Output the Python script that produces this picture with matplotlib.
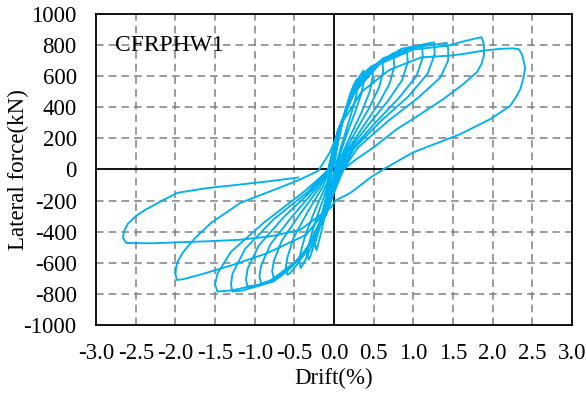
import matplotlib.pyplot as plt
import numpy as np

plt.rcParams['font.family'] = ['Liberation Serif', 'DejaVu Serif']

# hysteresis cycles: (drift %, lateral force kN)
c01 = [(0.00, 20), (0.05, 170), (0.12, 340), (0.20, 480), (0.25, 545), (0.29, 581), (0.30, 530),
       (0.27, 450), (0.20, 330), (0.11, 180), (0.03, 40), (-0.04, -110), (-0.10, -260),
       (-0.16, -400), (-0.22, -520), (-0.24, -480), (-0.23, -440), (-0.18, -340), (-0.11, -200),
       (-0.05, -70)]
c02 = [(0.00, 60), (0.07, 230), (0.15, 390), (0.24, 510), (0.32, 595), (0.37, 634), (0.38, 570),
       (0.34, 480), (0.26, 360), (0.15, 210), (0.05, 60), (-0.04, -100), (-0.12, -270),
       (-0.22, -440), (-0.30, -560), (-0.32, -580), (-0.34, -540), (-0.32, -490), (-0.27, -390),
       (-0.17, -240), (-0.07, -90)]
c03 = [(-0.01, 50), (0.06, 220), (0.16, 400), (0.28, 540), (0.39, 625), (0.48, 666), (0.49, 600),
       (0.45, 500), (0.35, 370), (0.21, 220), (0.07, 60), (-0.03, -90), (-0.13, -280),
       (-0.27, -480), (-0.38, -600), (-0.42, -634), (-0.44, -590), (-0.42, -530), (-0.36, -420),
       (-0.23, -250), (-0.09, -90)]
c04 = [(-0.02, 50), (0.06, 230), (0.18, 420), (0.32, 560), (0.47, 655), (0.61, 699), (0.62, 630),
       (0.57, 530), (0.45, 400), (0.28, 250), (0.10, 80), (-0.02, -80), (-0.14, -290),
       (-0.30, -480), (-0.45, -600), (-0.55, -665), (-0.59, -677), (-0.61, -635), (-0.59, -570),
       (-0.51, -440), (-0.34, -280), (-0.14, -110)]
c05 = [(-0.03, 40), (0.05, 230), (0.18, 430), (0.35, 580), (0.55, 685), (0.75, 731), (0.76, 660),
       (0.70, 550), (0.56, 420), (0.36, 270), (0.14, 100), (0.00, -70), (-0.13, -290),
       (-0.32, -490), (-0.54, -630), (-0.70, -690), (-0.76, -699), (-0.78, -655), (-0.76, -590),
       (-0.66, -460), (-0.44, -295), (-0.18, -115)]
c06 = [(-0.04, 30), (0.05, 230), (0.19, 440), (0.38, 600), (0.62, 715), (0.92, 763), (0.93, 690),
       (0.86, 575), (0.68, 440), (0.44, 290), (0.18, 120), (0.02, -60), (-0.12, -290),
       (-0.34, -510), (-0.60, -660), (-0.84, -725), (-0.92, -731), (-0.94, -690), (-0.92, -620),
       (-0.80, -480), (-0.54, -310), (-0.22, -120)]
c07 = [(-0.05, 20), (0.05, 240), (0.21, 460), (0.44, 630), (0.74, 745), (1.11, 795), (1.12, 720),
       (1.04, 600), (0.82, 460), (0.53, 305), (0.22, 130), (0.04, -50), (-0.11, -290),
       (-0.36, -530), (-0.68, -690), (-0.98, -748), (-1.09, -753), (-1.11, -710), (-1.09, -640),
       (-0.95, -490), (-0.64, -310), (-0.27, -130)]
c08 = [(-0.06, 10), (0.05, 250), (0.23, 480), (0.50, 660), (0.85, 775), (1.26, 817), (1.27, 740),
       (1.18, 615), (0.94, 470), (0.60, 315), (0.26, 140), (0.06, -40), (-0.10, -290),
       (-0.38, -550), (-0.76, -720), (-1.15, -778), (-1.28, -785), (-1.30, -740), (-1.28, -670),
       (-1.12, -510), (-0.76, -320), (-0.32, -140)]
c09 = [(-0.07, 0), (0.05, 250), (0.25, 490), (0.55, 670), (0.95, 780), (1.42, 813), (1.44, 774),
       (1.44, 700), (1.34, 590), (1.06, 460), (0.68, 310), (0.30, 140), (0.08, -30),
       (-0.09, -280), (-0.40, -560), (-0.84, -730), (-1.30, -778), (-1.47, -785), (-1.50, -740),
       (-1.47, -670), (-1.30, -530), (-0.88, -340), (-0.37, -140)]
c10 = [(-0.08, -10), (0.05, 250), (0.26, 500), (0.58, 680), (1.00, 770), (1.44, 796), (1.65, 825),
       (1.86, 850), (1.89, 806), (1.89, 731), (1.86, 677), (1.80, 624), (1.63, 548), (1.38, 452),
       (1.09, 355), (0.79, 258), (0.50, 142), (0.25, 54), (0.12, 0), (0.03, -110), (-0.10, -260),
       (-0.35, -420), (-0.85, -540), (-1.27, -613), (-1.69, -677), (-1.90, -705), (-1.98, -711),
       (-2.00, -670), (-1.98, -600), (-1.90, -530), (-1.75, -440), (-1.55, -344), (-1.18, -215),
       (-0.80, -140), (-0.45, -70), (-0.20, -10)]
c11 = [(-0.05, 110), (0.10, 300), (0.35, 500), (0.70, 640), (1.10, 720), (1.46, 731), (1.63, 742),
       (1.88, 763), (2.10, 775), (2.26, 778), (2.33, 772), (2.37, 740), (2.39, 700), (2.41, 650),
       (2.39, 590), (2.35, 516), (2.29, 460), (2.22, 408), (1.97, 323), (1.59, 226), (1.00, 110),
       (0.62, 0), (0.46, -52), (0.21, -150), (0.02, -200), (-0.04, -245), (-0.43, -389),
       (-0.80, -430), (-1.18, -452), (-1.60, -462), (-1.97, -469), (-2.30, -475), (-2.62, -473),
       (-2.66, -441), (-2.65, -400), (-2.60, -350), (-2.50, -300), (-2.38, -260), (-2.18, -204),
       (-1.97, -150), (-1.60, -120), (-1.18, -97), (-0.80, -75), (-0.45, -52)]

x_ticks = np.arange(-3.0, 3.01, 0.5)
y_ticks = np.arange(-1000, 1001, 200)
specimen = "CFRPHW1"

pts = np.array(c01 + c02 + c03 + c04 + c05 + c06 + c07 + c08 + c09 + c10 + c11)

fig = plt.figure(figsize=(5.86, 4.0), dpi=100)
ax = fig.add_axes([0.164, 0.1875, 0.812, 0.778])

# dashed grid + solid zero axes
for xv in x_ticks:
    if abs(xv) > 1e-9 and abs(abs(xv) - 3) > 1e-9:
        ax.axvline(xv, color='#808080', lw=1.1, ls=(0, (5, 3.3)), zorder=1)
for yv in y_ticks:
    if yv != 0 and abs(yv) != 1000:
        ax.axhline(yv, color='#808080', lw=1.1, ls=(0, (5, 3.3)), zorder=1)
ax.axhline(0, color='black', lw=1.3, zorder=2)
ax.axvline(0, color='black', lw=1.3, zorder=2)

ax.plot(pts[:, 0], pts[:, 1], color='#00B0F0', lw=1.35, zorder=3)

ax.set_xlim(-3, 3)
ax.set_ylim(-1000, 1000)
ax.set_xticks(x_ticks)
ax.set_xticklabels([f"{v:.1f}" for v in x_ticks])
ax.set_yticks(y_ticks)
ax.set_yticklabels([f"{v:d}" for v in y_ticks])
ax.tick_params(axis='both', length=0, labelsize=16.5)
ax.tick_params(axis='x', pad=13)
ax.tick_params(axis='y', pad=14)
for s in ax.spines.values():
    s.set_linewidth(1.3)

ax.set_xlabel("Drift(%)", fontsize=16.5, labelpad=3)
ax.set_ylabel("Lateral force(kN)", fontsize=16.5, labelpad=-4)
ax.text(0.04, 0.882, specimen, transform=ax.transAxes, fontsize=17, va='baseline', ha='left')

fig.savefig("out.png", dpi=100)
